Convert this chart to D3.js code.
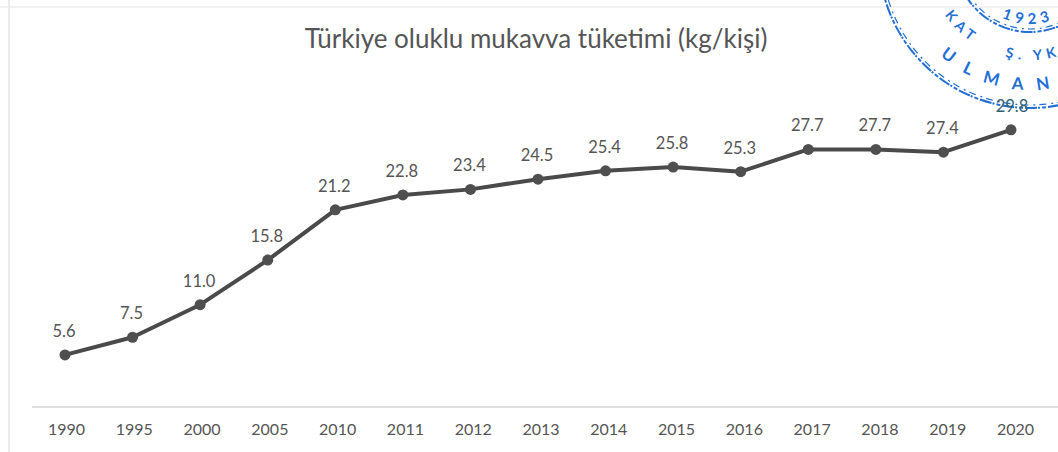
<!DOCTYPE html>
<html><head><meta charset="utf-8">
<script src="https://cdnjs.cloudflare.com/ajax/libs/d3/7.8.5/d3.min.js"></script>
<style>html,body{margin:0;padding:0;background:#fff}svg{display:block}text{font-family:Lato,"Open Sans",sans-serif}</style>
</head><body><svg id="c" width="1058" height="452"></svg>
<script>
const title = "Türkiye oluklu mukavva tüketimi (kg/kişi)";
const years = ["1990","1995","2000","2005","2010","2011","2012","2013","2014","2015","2016","2017","2018","2019","2020"];
const values = [5.6,7.5,11.0,15.8,21.2,22.8,23.4,24.5,25.4,25.8,25.3,27.7,27.7,27.4,29.8];
const valueLabels = ["5.6","7.5","11.0","15.8","21.2","22.8","23.4","24.5","25.4","25.8","25.3","27.7","27.7","27.4","29.8"];
const stampOuterText = "ULMAN";
const stampMidText = "KAT    Ş. YKSI";
const stampInnerText = "1923";
const stampRadii = [151,148,75,72];

const svg = d3.select("#c");
const x = d3.scalePoint().domain(years).range([65,1011]);
const xAxisScale = d3.scalePoint().domain(years).range([66,1015]);
const y = d3.scaleLinear().domain([0,30]).range([407,128]);

svg.append("line").attr("x1",9).attr("x2",9).attr("y1",0).attr("y2",452).attr("stroke","#e4e4e4").attr("stroke-width",1.5);
svg.append("line").attr("x1",0).attr("x2",1058).attr("y1",7).attr("y2",7).attr("stroke","#ececec").attr("stroke-width",1.5);

svg.append("text").attr("x",536).attr("y",48).attr("text-anchor","middle").attr("font-size",26).attr("fill","#555").text(title);

const ax = svg.append("g").attr("transform","translate(0,407)").call(d3.axisBottom(xAxisScale).tickSize(0).tickPadding(17));
ax.select(".domain").attr("d","M32,0H1058").attr("stroke","#d4d4d4").attr("stroke-width",1.5);
ax.selectAll("text").attr("font-size",16).attr("fill","#555").style("font-family","Lato");

const cx=1030, cy=-43, stampColor="#1f6fd6";
const stamp = svg.append("g").attr("transform",`translate(${cx},${cy})`);
stampRadii.forEach((r,i)=>stamp.append("circle").attr("r",r).attr("fill","none").attr("stroke",stampColor)
  .attr("stroke-width",i%2?1.2:2).attr("stroke-dasharray",i%2?"7 4 2 5":"12 2 4 2 2 1"));
const defs=svg.append("defs");
[[133,"o"],[103,"m"],[67,"i"]].forEach(([r,id])=>defs.append("path").attr("id","p"+id)
  .attr("d",`M${-r},0A${r},${r} 0 0 0 ${r},0`));
[["o",stampOuterText,"26.5%",17,14],["m",stampMidText,"19%",14,5],["i",stampInnerText,"36%",15,5]].forEach(([id,t,off,fs,ls])=>{
  stamp.append("text").attr("font-size",fs).attr("font-weight",700).attr("fill",stampColor).attr("letter-spacing",ls).attr("xml:space","preserve").style("white-space","pre")
   .append("textPath").attr("href","#p"+id).attr("startOffset",off).text(t);
});

const line = d3.line().x((d,i)=>x(years[i])).y(d=>y(d));
svg.append("path").datum(values).attr("d",line).attr("fill","none").attr("stroke","#4a4a4a").attr("stroke-width",4).attr("stroke-linejoin","round");
svg.selectAll("circle.pt").data(values).join("circle").attr("class","pt")
  .attr("cx",(d,i)=>x(years[i])).attr("cy",d=>y(d)).attr("r",5.5).attr("fill","#4f4f4f");

svg.selectAll("text.v").data(values).join("text").attr("class","v")
  .attr("x",(d,i)=>x(years[i])-1+(i===14?2:0)).attr("y",d=>y(d)-18)
  .attr("text-anchor","middle").attr("font-size",16.5).attr("fill",(d,i)=>i===14?"#2f5f70":"#555")
  .text((d,i)=>valueLabels[i]);
</script></body></html>
